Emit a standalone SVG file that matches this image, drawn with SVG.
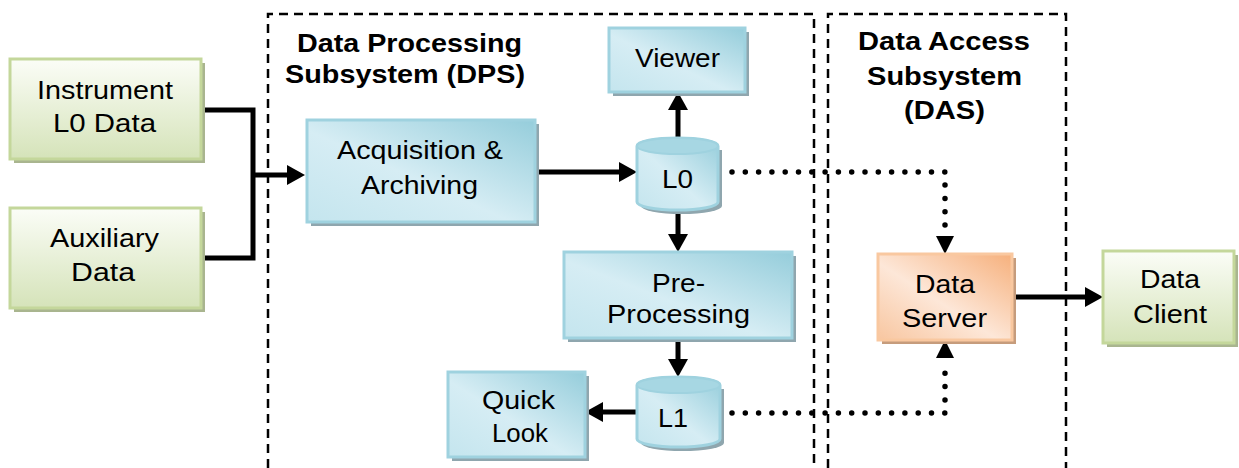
<svg xmlns="http://www.w3.org/2000/svg" width="1239" height="468" viewBox="0 0 1239 468">
<style>
.t{font-family:"Liberation Sans",Arial,sans-serif;font-size:26px;fill:#000}
.b{font-weight:bold}
.blue{fill:url(#gBlue);stroke:#9fd2df;stroke-width:3}
.green{fill:url(#gGreen);stroke:#c4d79b;stroke-width:3}
.orange{fill:url(#gOrange);stroke:#f9c8a0;stroke-width:3}
.shB{fill:#8fa6ae}
.shG{fill:#a9b58f}
.shO{fill:#c69c7c}
.dash{fill:none;stroke:#000;stroke-width:2.5;stroke-dasharray:9 6}
.solid{fill:none;stroke:#000;stroke-width:5}
.dot{fill:none;stroke:#000;stroke-width:5.5;stroke-linecap:round;stroke-dasharray:0 13.3}
.cylTop{fill:#a7d7e3;stroke:#9fd2df;stroke-width:2}
</style>
<defs>
<linearGradient id="gBlue" x1="1" y1="0" x2="0" y2="1">
<stop offset="0" stop-color="#95cddb"/>
<stop offset="0.55" stop-color="#d6edf4"/>
<stop offset="1" stop-color="#c4e5ee"/>
</linearGradient>
<linearGradient id="gGreen" x1="0" y1="0" x2="0" y2="1">
<stop offset="0" stop-color="#fbfdf7"/>
<stop offset="1" stop-color="#d5e3b9"/>
</linearGradient>
<linearGradient id="gOrange" x1="1" y1="0" x2="0" y2="1">
<stop offset="0" stop-color="#f6b07c"/>
<stop offset="0.55" stop-color="#fde7d8"/>
<stop offset="1" stop-color="#f8c6a0"/>
</linearGradient>
<marker id="arr" markerUnits="userSpaceOnUse" markerWidth="19" markerHeight="21" refX="0" refY="10" orient="auto" overflow="visible">
<path d="M0,0 L18,10 L0,20 Z" fill="#000"/>
</marker>
<clipPath id="clipPre"><rect x="560" y="250" width="240" height="78"/></clipPath>
</defs>

<g id="dps-boundary">
<path class="dash" d="M268 468 V14 H814 V468"/>
<text class="t b" x="297" y="52" textLength="225" lengthAdjust="spacingAndGlyphs">Data Processing</text>
<text class="t b" x="285" y="83" textLength="240" lengthAdjust="spacingAndGlyphs">Subsystem (DPS)</text>
</g>
<g id="das-boundary">
<path class="dash" d="M828 468 V14 H1066 V468"/>
<text class="t b" x="858" y="50" textLength="172" lengthAdjust="spacingAndGlyphs">Data Access</text>
<text class="t b" x="867" y="85" textLength="155" lengthAdjust="spacingAndGlyphs">Subsystem</text>
<text class="t b" x="904" y="119" textLength="81" lengthAdjust="spacingAndGlyphs">(DAS)</text>
</g>

<g id="connectors">
<path class="solid" d="M201 110 H253 V258 H201"/>
<path class="solid" d="M253 175 H287" marker-end="url(#arr)"/>
<path class="solid" d="M535 172 H619" marker-end="url(#arr)"/>
<path class="solid" d="M678 138 V110" marker-end="url(#arr)"/>
<path class="solid" d="M678 211 V234" marker-end="url(#arr)"/>
<path class="solid" d="M678 339 V359" marker-end="url(#arr)"/>
<path class="solid" d="M637 412 H603" marker-end="url(#arr)"/>
<path class="solid" d="M1012 297 H1085" marker-end="url(#arr)"/>
<path class="dot" d="M732 172 H945 V228"/>
<path d="M936 236 L954 236 L945 254 Z" fill="#000"/>
<path class="dot" d="M732 413 H945 V366"/>
<path d="M936 358 L954 358 L945 340 Z" fill="#000"/>
</g>

<g id="instrument-l0-data">
<rect class="shG" x="14" y="63" width="191" height="100"/>
<rect class="green" x="10" y="59" width="191" height="100"/>
<text class="t" x="37" y="99" textLength="136" lengthAdjust="spacingAndGlyphs">Instrument</text>
<text class="t" x="53" y="132" textLength="103" lengthAdjust="spacingAndGlyphs">L0 Data</text>
</g>
<g id="auxiliary-data">
<rect class="shG" x="14" y="212" width="191" height="100"/>
<rect class="green" x="10" y="208" width="191" height="100"/>
<text class="t" x="50" y="247" textLength="109" lengthAdjust="spacingAndGlyphs">Auxiliary</text>
<text class="t" x="71" y="281" textLength="64" lengthAdjust="spacingAndGlyphs">Data</text>
</g>
<g id="acquisition-archiving">
<rect class="shB" x="311" y="124" width="228" height="102"/>
<rect class="blue" x="307" y="120" width="228" height="102"/>
<text class="t" x="337" y="159" textLength="166" lengthAdjust="spacingAndGlyphs">Acquisition &amp;</text>
<text class="t" x="361" y="194" textLength="117" lengthAdjust="spacingAndGlyphs">Archiving</text>
</g>
<g id="viewer">
<rect class="shB" x="613" y="32" width="136" height="64"/>
<rect class="blue" x="609" y="28" width="136" height="64"/>
<text class="t" x="635" y="67" textLength="85" lengthAdjust="spacingAndGlyphs">Viewer</text>
</g>
<g id="l0-store">
<path class="shB" d="M641 150 V206 A40.5 8 0 0 0 722 206 V150 Z"/>
<path class="blue" d="M637 146 A40.5 8 0 0 1 718 146 V202 A40.5 8 0 0 1 637 202 Z"/>
<ellipse class="cylTop" cx="677.5" cy="146" rx="40.5" ry="8"/>
<text class="t" x="662" y="188" textLength="31" lengthAdjust="spacingAndGlyphs">L0</text>
</g>
<g id="pre-processing">
<rect class="shB" x="568" y="256" width="228" height="86"/>
<rect class="blue" x="564" y="252" width="228" height="86"/>
<text class="t" x="652" y="292" textLength="53" lengthAdjust="spacingAndGlyphs">Pre-</text>
<text class="t" x="607" y="323" textLength="143" lengthAdjust="spacingAndGlyphs" clip-path="url(#clipPre)">Processing</text>
</g>
<g id="l1-store">
<path class="shB" d="M641 389 V443 A41.5 8 0 0 0 724 443 V389 Z"/>
<path class="blue" d="M637 385 A41.5 8 0 0 1 720 385 V439 A41.5 8 0 0 1 637 439 Z"/>
<ellipse class="cylTop" cx="678.5" cy="385" rx="41.5" ry="8"/>
<text class="t" x="658" y="427" textLength="30" lengthAdjust="spacingAndGlyphs">L1</text>
</g>
<g id="quick-look">
<rect class="shB" x="452" y="376" width="137" height="85"/>
<rect class="blue" x="448" y="372" width="137" height="85"/>
<text class="t" x="482" y="409" textLength="73" lengthAdjust="spacingAndGlyphs">Quick</text>
<text class="t" x="492" y="442" textLength="56" lengthAdjust="spacingAndGlyphs">Look</text>
</g>
<g id="data-server">
<rect class="shO" x="882" y="258" width="134" height="86"/>
<rect class="orange" x="878" y="254" width="134" height="86"/>
<text class="t" x="915" y="293" textLength="60" lengthAdjust="spacingAndGlyphs">Data</text>
<text class="t" x="902" y="327" textLength="85" lengthAdjust="spacingAndGlyphs">Server</text>
</g>
<g id="data-client">
<rect class="shG" x="1107" y="255" width="131" height="92"/>
<rect class="green" x="1103" y="251" width="131" height="92"/>
<text class="t" x="1140" y="288" textLength="60" lengthAdjust="spacingAndGlyphs">Data</text>
<text class="t" x="1133" y="323" textLength="74" lengthAdjust="spacingAndGlyphs">Client</text>
</g>
</svg>
